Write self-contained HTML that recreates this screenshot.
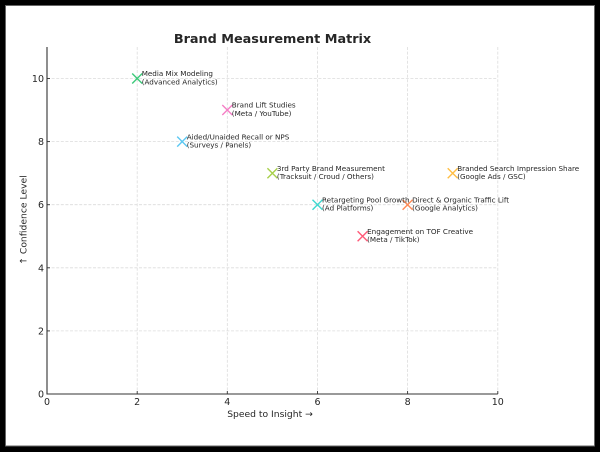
<!DOCTYPE html>
<html><head><meta charset="utf-8"><style>
html,body{margin:0;padding:0;background:#000;}
svg{display:block;}
text{font-family:"DejaVu Sans","Liberation Sans",sans-serif;fill:#262626;}
</style></head><body>
<svg width="600" height="452" viewBox="0 0 600 452" xmlns="http://www.w3.org/2000/svg">
<rect x="0" y="0" width="600" height="452" fill="#000"/>
<rect x="5.5" y="5.5" width="589" height="440.5" fill="#fff" stroke="#666" stroke-width="1"/>
<!-- grid -->
<g stroke="#dcdcdc" stroke-width="0.8" stroke-dasharray="3,1.6" fill="none">
<line x1="137.2" y1="47" x2="137.2" y2="394"/>
<line x1="227.3" y1="47" x2="227.3" y2="394"/>
<line x1="317.5" y1="47" x2="317.5" y2="394"/>
<line x1="407.6" y1="47" x2="407.6" y2="394"/>
<line x1="497.8" y1="47" x2="497.8" y2="394"/>
<line x1="47" y1="78.5" x2="497.8" y2="78.5"/>
<line x1="47" y1="141.6" x2="497.8" y2="141.6"/>
<line x1="47" y1="204.7" x2="497.8" y2="204.7"/>
<line x1="47" y1="267.8" x2="497.8" y2="267.8"/>
<line x1="47" y1="330.9" x2="497.8" y2="330.9"/>
</g>
<!-- spines -->
<g stroke="#333" stroke-width="1.1">
<line x1="47" y1="47" x2="47" y2="394.5"/>
<line x1="46.5" y1="394" x2="497.8" y2="394"/>
</g>
<!-- ticks -->
<g stroke="#333" stroke-width="0.9">
<line x1="47" y1="394" x2="47" y2="391"/>
<line x1="137.2" y1="394" x2="137.2" y2="391"/>
<line x1="227.3" y1="394" x2="227.3" y2="391"/>
<line x1="317.5" y1="394" x2="317.5" y2="391"/>
<line x1="407.6" y1="394" x2="407.6" y2="391"/>
<line x1="497.8" y1="394" x2="497.8" y2="391"/>
<line x1="47" y1="78.5" x2="50" y2="78.5"/>
<line x1="47" y1="141.6" x2="50" y2="141.6"/>
<line x1="47" y1="204.7" x2="50" y2="204.7"/>
<line x1="47" y1="267.8" x2="50" y2="267.8"/>
<line x1="47" y1="330.9" x2="50" y2="330.9"/>
</g>
<!-- tick labels -->
<g font-size="9.5" text-anchor="middle">
<text x="47" y="405">0</text>
<text x="137.2" y="405">2</text>
<text x="227.3" y="405">4</text>
<text x="317.5" y="405">6</text>
<text x="407.6" y="405">8</text>
<text x="497.8" y="405">10</text>
</g>
<g font-size="9.5" text-anchor="end">
<text x="44" y="397.5">0</text>
<text x="44" y="334.4">2</text>
<text x="44" y="271.3">4</text>
<text x="44" y="208.2">6</text>
<text x="44" y="145.1">8</text>
<text x="44" y="82">10</text>
</g>
<!-- axis labels -->
<text x="270" y="417" font-size="9.2" text-anchor="middle">Speed to Insight →</text>
<text transform="translate(26.5,220) rotate(-90)" font-size="9.2" text-anchor="middle">↑ Confidence Level</text>
<!-- title -->
<text x="272.5" y="43" font-size="12.8" font-weight="bold" text-anchor="middle">Brand Measurement Matrix</text>
<!-- markers -->
<g stroke-width="1.4" fill="none">
<path d="M132.2 73.5L142.2 83.5M142.2 73.5L132.2 83.5" stroke="#3cc97a"/>
<path d="M222.3 105L232.3 115M232.3 105L222.3 115" stroke="#f57fc6"/>
<path d="M177.2 136.6L187.2 146.6M187.2 136.6L177.2 146.6" stroke="#5cc8f2"/>
<path d="M267.4 168.2L277.4 178.2M277.4 168.2L267.4 178.2" stroke="#a8d04c"/>
<path d="M447.7 168.2L457.7 178.2M457.7 168.2L447.7 178.2" stroke="#ffbe45"/>
<path d="M312.5 199.7L322.5 209.7M322.5 199.7L312.5 209.7" stroke="#3ed8cf"/>
<path d="M402.6 199.7L412.6 209.7M412.6 199.7L402.6 209.7" stroke="#ff8b55"/>
<path d="M357.6 231.3L367.6 241.3M367.6 231.3L357.6 241.3" stroke="#ff5a78"/>
</g>
<!-- annotations -->
<g font-size="7.2">
<text x="141.7" y="76.2">Media Mix Modeling</text>
<text x="141.7" y="84.4">(Advanced Analytics)</text>
<text x="231.8" y="107.7">Brand Lift Studies</text>
<text x="231.8" y="115.9">(Meta / YouTube)</text>
<text x="186.7" y="139.3">Aided/Unaided Recall or NPS</text>
<text x="186.7" y="147.5">(Surveys / Panels)</text>
<text x="276.9" y="170.9">3rd Party Brand Measurement</text>
<text x="276.9" y="179.1">(Tracksuit / Croud / Others)</text>
<text x="457.2" y="170.9">Branded Search Impression Share</text>
<text x="457.2" y="179.1">(Google Ads / GSC)</text>
<text x="322" y="202.4">Retargeting Pool Growth</text>
<text x="322" y="210.6">(Ad Platforms)</text>
<text x="412.1" y="202.4">Direct &amp; Organic Traffic Lift</text>
<text x="412.1" y="210.6">(Google Analytics)</text>
<text x="367.1" y="234">Engagement on TOF Creative</text>
<text x="367.1" y="242.2">(Meta / TikTok)</text>
</g>
</svg>
</body></html>
